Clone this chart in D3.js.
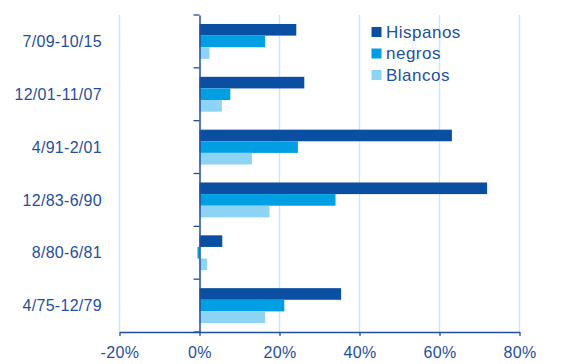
<!DOCTYPE html>
<html>
<head>
<meta charset="utf-8">
<script src="https://cdn.jsdelivr.net/npm/d3@7"></script>
<style>
  html, body { margin: 0; padding: 0; background: #fff; }
  svg { display: block; }
  text { font-family: "Liberation Sans", Arial, sans-serif; fill: #1f4f9e; }
</style>
</head>
<body>
<svg id="chart" width="564" height="364"></svg>
<script>
// Periods, top to bottom
const periods = ["7/09-10/15", "12/01-11/07", "4/91-2/01", "12/83-6/90", "8/80-6/81", "4/75-12/79"];
const seriesNames = ["Hispanos", "negros", "Blancos"];
// Percent change per period
const hispanos = [24.2, 26.2, 63.1, 71.9, 5.7, 35.4];
const negros   = [16.4, 7.7, 24.6, 34.0, -0.5, 21.2];
const blancos  = [2.5, 5.6, 13.1, 17.5, 1.9, 16.4];
const xTicks = [-20, 0, 20, 40, 60, 80];
const colors = ["#0a4fa1", "#009fe3", "#8dd3f4"];

const seriesValues = [hispanos, negros, blancos];
const svg = d3.select("#chart");
const margin = { left: 119.5, right: 44.5, top: 15, bottom: 32 };
const W = 564, H = 364;

const x = d3.scaleLinear().domain([-20, 80]).range([margin.left, W - margin.right]);
const y = d3.scaleBand().domain(periods).range([margin.top, H - margin.bottom])
  .paddingInner(0.34).paddingOuter(0.17);
const ySub = d3.scaleBand().domain(seriesNames).range([0, y.bandwidth()]);

// Vertical gridlines
svg.append("g").selectAll("line").data(xTicks.filter(t => t !== 0)).join("line")
  .attr("x1", d => x(d)).attr("x2", d => x(d))
  .attr("y1", margin.top).attr("y2", H - margin.bottom)
  .attr("stroke", "#c9e8f9").attr("stroke-width", 1.4);

// Bars
const groups = svg.append("g").selectAll("g").data(periods).join("g")
  .attr("transform", p => `translate(0,${y(p)})`);
groups.selectAll("rect")
  .data((p, i) => seriesNames.map((s, k) => ({ s, k, v: seriesValues[k][i] })))
  .join("rect")
  .attr("x", d => x(Math.min(0, d.v)))
  .attr("width", d => Math.abs(x(d.v) - x(0)))
  .attr("y", d => ySub(d.s))
  .attr("height", ySub.bandwidth())
  .attr("fill", d => colors[d.k]);

// Bottom axis
const xAxis = svg.append("g")
  .attr("transform", `translate(0,${H - margin.bottom})`)
  .call(d3.axisBottom(x).tickValues(xTicks).tickFormat(d => d + "%").tickSize(4).tickSizeOuter(0).tickPadding(11));
xAxis.select(".domain").attr("stroke", "#1f4f9e").attr("stroke-width", 1.3);
xAxis.selectAll(".tick line").attr("stroke", "#1f4f9e").attr("stroke-width", 1.3);
xAxis.selectAll("text").attr("font-size", 16).attr("letter-spacing", 0.4).style("fill", "#1f4f9e");

// Category axis on the zero line
const yAxis = svg.append("g").attr("transform", `translate(${x(0)},0)`)
  .call(d3.axisLeft(y).tickSize(0).tickFormat(""));
yAxis.select(".domain").attr("stroke", "#1f4f9e").attr("stroke-width", 1.5);
// Separator ticks between categories
svg.append("g").selectAll("line")
  .data(d3.range(periods.length + 1).map(i => margin.top + i * y.step()))
  .join("line")
  .attr("x1", x(0) - 6).attr("x2", x(0))
  .attr("y1", d => d).attr("y2", d => d)
  .attr("stroke", "#1f4f9e").attr("stroke-width", 1.3);

// Category labels
svg.append("g").selectAll("text").data(periods).join("text")
  .attr("x", 102)
  .attr("y", p => y(p) + y.bandwidth() / 2)
  .attr("dy", "0.35em")
  .attr("text-anchor", "end")
  .attr("font-size", 16)
  .attr("letter-spacing", 0.3)
  .text(p => p);

// Legend
const legend = svg.append("g").attr("transform", "translate(371.5,26)");
const li = legend.selectAll("g").data(seriesNames).join("g")
  .attr("transform", (d, i) => `translate(0,${i * 21.5})`);
li.append("rect").attr("width", 10).attr("height", 10).attr("y", 1)
  .attr("fill", (d, i) => colors[i]);
li.append("text").attr("x", 14.5).attr("y", 6).attr("dy", "0.35em")
  .attr("font-size", 17).attr("letter-spacing", 0.5).text(d => d);
</script>
</body>
</html>
